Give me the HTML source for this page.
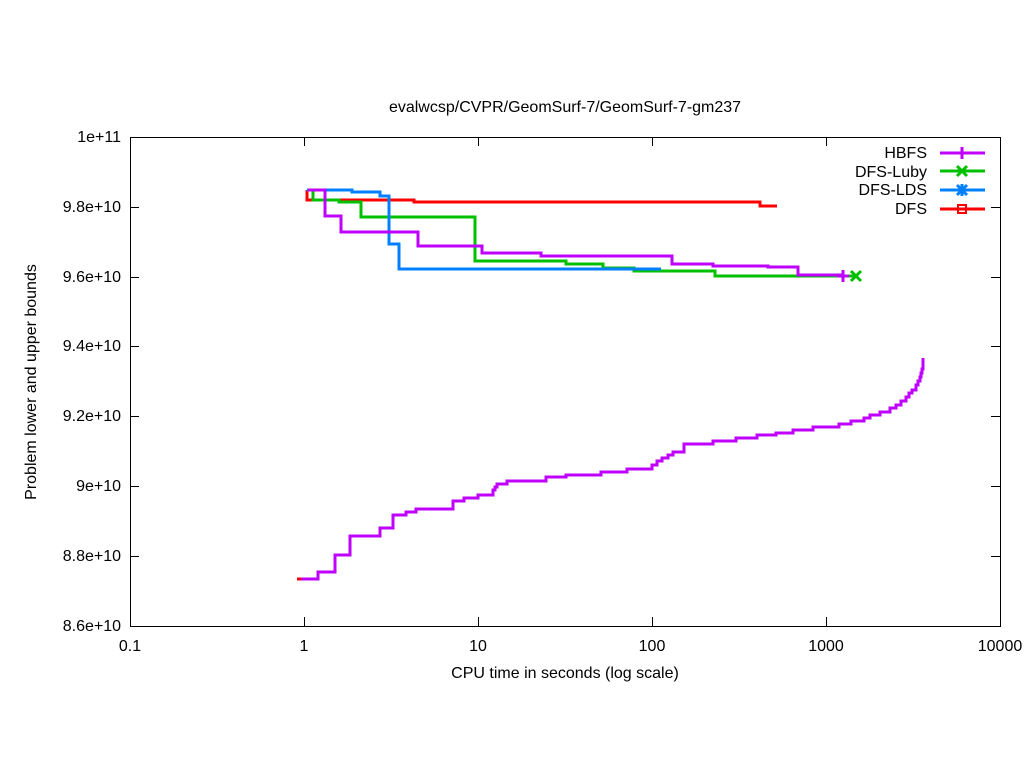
<!DOCTYPE html>
<html><head><meta charset="utf-8"><style>body{margin:0;background:#fff}svg{display:block}text{font-family:"Liberation Sans",sans-serif;font-size:16px;fill:#000}</style></head><body>
<svg width="1024" height="768" viewBox="0 0 1024 768">
<rect x="130.5" y="137.5" width="870" height="489" fill="none" stroke="#000" stroke-width="1"/>
<g stroke="#000" stroke-width="1">
<path d="M130 207.5h9M130 277.5h9M130 346.5h9M130 416.5h9M130 486.5h9M130 556.5h9M1000 207.5h-9M1000 277.5h-9M1000 346.5h-9M1000 416.5h-9M1000 486.5h-9M1000 556.5h-9"/>
<path d="M304.5 626v-9M478.5 626v-9M652.5 626v-9M826.5 626v-9M304.5 137v9M478.5 137v9M652.5 137v9M826.5 137v9"/>
</g>
<g text-anchor="end">
<text x="121" y="142">1e+11</text><text x="121" y="212">9.8e+10</text><text x="121" y="282">9.6e+10</text><text x="121" y="351">9.4e+10</text><text x="121" y="421">9.2e+10</text><text x="121" y="491">9e+10</text><text x="121" y="561">8.8e+10</text><text x="121" y="631">8.6e+10</text>
</g>
<g text-anchor="middle">
<text x="130" y="651">0.1</text><text x="304" y="651">1</text><text x="478" y="651">10</text><text x="652" y="651">100</text><text x="826" y="651">1000</text><text x="1000" y="651">10000</text>
<text x="565" y="112">evalwcsp/CVPR/GeomSurf-7/GeomSurf-7-gm237</text>
<text x="565" y="678">CPU time in seconds (log scale)</text>
<text transform="translate(36,382) rotate(-90)">Problem lower and upper bounds</text>
</g>
<g fill="none" stroke-width="3">
<path stroke="#ff0000" d="M307 190V200H414V202H760V206H777"/>
<path stroke="#00c000" d="M313 190V200H339V202H361V217H475V261H566V264H603V268H634V271H715V276H855"/>
<path stroke="#0080ff" d="M307 190H352V192H380V196H389V244H399V269H661"/>
<path stroke="#c000ff" d="M308 190H325V216H341V232H418V246H482V253H541V256H672V264H713V266H768V267H798V275H843"/>
<path stroke="#c000ff" d="M300 579H318V572H335V555H350V536H380V528H393V515H406V512H416V509H453V501H464V498H478V495H493V490H495V487H497V484H507V481H546V477H566V475H601V472H627V469H652V465H657V461H662V458H668V455H673V452H684V444H713V441H736V438H757V435H776V433H793V430H813V427H839V424H851V421H864V418H870V415H880V412H890V408H896V405H901V401H906V397H909V393H912V390H916V385H918V381H920V377H921V373H922V369H923V358"/>
<path stroke="#ff0000" d="M297 579H301"/>
<path stroke="#c000ff" d="M843 270v12M837 276h12"/>
<path stroke="#00c000" d="M851 271l10 10M861 271l-10 10"/>
</g>
<g text-anchor="end"><text x="927" y="158">HBFS</text><text x="927" y="177">DFS-Luby</text><text x="927" y="195">DFS-LDS</text><text x="927" y="214">DFS</text></g>
<g fill="none" stroke-width="3">
<path stroke="#c000ff" d="M940 153h45M962 147v12M956 153h12"/>
<path stroke="#00c000" d="M940 171h45M957 166l10 10M967 166l-10 10"/>
<path stroke="#0080ff" d="M940 190h45M957 185l10 10M967 185l-10 10M962 184v12"/>
<path stroke="#ff0000" d="M940 209h45"/>
<rect x="958" y="205" width="8" height="8" stroke="#ff0000" stroke-width="2"/>
</g>
</svg>
</body></html>
